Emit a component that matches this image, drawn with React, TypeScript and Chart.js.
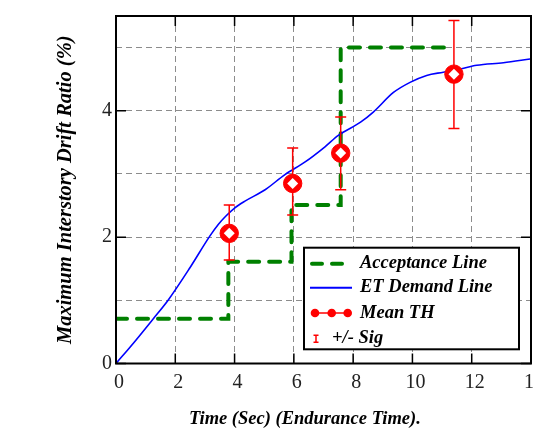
import { useEffect, useRef } from "react";
import { Chart, registerables } from "chart.js";

Chart.register(...registerables);

// ET demand line (time in sec, drift %)
const demandX = [0, 0.6, 1.26, 1.77, 2.5, 3.17, 3.45, 3.7, 4.0, 4.35, 5.03, 5.7, 6.38, 7.05, 7.5, 8.25, 8.68, 9.36, 9.92, 10.48, 11.04, 11.6, 12.17, 13.07, 13.97];
const demandY = [0, 0.33, 0.71, 1.01, 1.52, 2.02, 2.2, 2.33, 2.46, 2.57, 2.75, 2.99, 3.19, 3.43, 3.61, 3.82, 3.98, 4.29, 4.45, 4.56, 4.61, 4.66, 4.72, 4.76, 4.82];

// Acceptance line (step, horizontal first)
const acceptX = [0, 3.79, 5.92, 7.58, 11.35];
const acceptY = [0.71, 1.61, 2.51, 5.0, 5.0];

// Mean TH with +/- sigma
const meanX = [3.82, 5.96, 7.58, 11.4];
const meanY = [2.06, 2.85, 3.33, 4.58];
const sigLow = [1.64, 2.35, 2.75, 3.72];
const sigHigh = [2.51, 3.41, 3.9, 5.43];

const xTickValues = [0, 2, 4, 6, 8, 10, 12, 14];
const yLabelValues = [0, 2, 4];

const legendLabels = ["Acceptance Line", "ET Demand Line", "Mean TH", "+/- Sig"];
const xTitle = "Time (Sec) (Endurance Time).";
const yTitle = "Maximum Interstory Drift Ratio (%)";

const SERIF = "'Liberation Serif', 'Times New Roman', serif";
const GREEN = "#008000";
const BLUE = "#0000ff";
const RED = "#ff0000";

const decor = {
  id: "decor",
  afterDatasetDraw(chart: any, args: any) {
    if (args.index !== 2) return;
    const { ctx, scales } = chart;
    const xs = scales.x;
    const ys = scales.y;
    ctx.save();
    ctx.strokeStyle = RED;
    ctx.lineWidth = 1.5;
    for (let i = 0; i < meanX.length; i++) {
      const px = xs.getPixelForValue(meanX[i]);
      const pTop = ys.getPixelForValue(sigHigh[i]);
      const pBot = ys.getPixelForValue(sigLow[i]);
      ctx.beginPath();
      ctx.moveTo(px, pTop);
      ctx.lineTo(px, pBot);
      ctx.moveTo(px - 5.5, pTop);
      ctx.lineTo(px + 5.5, pTop);
      ctx.moveTo(px - 5.5, pBot);
      ctx.lineTo(px + 5.5, pBot);
      ctx.stroke();
    }
    ctx.restore();
  },
  afterDraw(chart: any) {
    const { ctx, chartArea: ca, scales } = chart;
    const xs = scales.x;
    const ys = scales.y;
    ctx.save();
    // inward tick marks
    ctx.strokeStyle = "#000";
    ctx.lineWidth = 1.5;
    ctx.beginPath();
    for (const v of xTickValues) {
      const px = xs.getPixelForValue(v);
      ctx.moveTo(px, ca.bottom);
      ctx.lineTo(px, ca.bottom - 10);
      ctx.moveTo(px, ca.top);
      ctx.lineTo(px, ca.top + 10);
    }
    for (const v of yLabelValues) {
      const py = ys.getPixelForValue(v);
      ctx.moveTo(ca.left, py);
      ctx.lineTo(ca.left + 10, py);
      ctx.moveTo(ca.right, py);
      ctx.lineTo(ca.right - 10, py);
    }
    ctx.stroke();
    // frame
    ctx.lineWidth = 2;
    ctx.strokeRect(ca.left, ca.top, ca.right - ca.left, ca.bottom - ca.top);

    // legend
    const bx = ca.left + 188;
    const by = ca.top + 231.7;
    const bw = 215;
    const bh = 101.6;
    ctx.fillStyle = "#fff";
    ctx.fillRect(bx, by, bw, bh);
    ctx.strokeStyle = "#000";
    ctx.lineWidth = 2;
    ctx.strokeRect(bx, by, bw, bh);
    const rows = [16, 40, 65.3, 91];
    const s0 = bx + 6;
    const s1 = bx + 48;
    // acceptance sample
    ctx.strokeStyle = GREEN;
    ctx.lineWidth = 4;
    ctx.lineCap = "round";
    ctx.setLineDash([10, 10]);
    ctx.beginPath();
    ctx.moveTo(s0 + 2, by + rows[0]);
    ctx.lineTo(s1 - 2, by + rows[0]);
    ctx.stroke();
    ctx.setLineDash([]);
    ctx.lineCap = "butt";
    // demand sample
    ctx.strokeStyle = BLUE;
    ctx.lineWidth = 2;
    ctx.beginPath();
    ctx.moveTo(s0, by + rows[1]);
    ctx.lineTo(s1, by + rows[1]);
    ctx.stroke();
    // mean sample
    ctx.strokeStyle = RED;
    ctx.lineWidth = 1.5;
    ctx.beginPath();
    ctx.moveTo(s0 + 5, by + rows[2]);
    ctx.lineTo(s1 - 4, by + rows[2]);
    ctx.stroke();
    ctx.fillStyle = RED;
    for (const off of [11, 27.7, 43.7]) {
      ctx.beginPath();
      ctx.arc(bx + off, by + rows[2], 4.3, 0, Math.PI * 2);
      ctx.fill();
    }
    // sig sample
    ctx.lineWidth = 1.5;
    const sx = bx + 12;
    const sy = by + rows[3];
    ctx.beginPath();
    ctx.moveTo(sx, sy - 3.5);
    ctx.lineTo(sx, sy + 3.5);
    ctx.moveTo(sx - 2.5, sy - 3.5);
    ctx.lineTo(sx + 2.5, sy - 3.5);
    ctx.moveTo(sx - 2.5, sy + 3.5);
    ctx.lineTo(sx + 2.5, sy + 3.5);
    ctx.stroke();
    // legend text
    ctx.fillStyle = "#000";
    ctx.font = `bold italic 18.5px ${SERIF}`;
    ctx.textBaseline = "middle";
    ctx.textAlign = "left";
    ctx.fillText(legendLabels[0], bx + 56, by + rows[0]);
    ctx.fillText(legendLabels[1], bx + 56, by + rows[1]);
    ctx.fillText(legendLabels[2], bx + 56, by + rows[2]);
    ctx.fillText(legendLabels[3], bx + 28, by + rows[3]);

    // axis titles
    ctx.textAlign = "center";
    ctx.fillText(xTitle, ca.left + 0.455 * (ca.right - ca.left), ca.bottom + 55.5);
    ctx.font = `bold italic 20.5px ${SERIF}`;
    ctx.translate(ca.left - 50, (ca.top + ca.bottom) / 2);
    ctx.rotate(-Math.PI / 2);
    ctx.fillText(yTitle, 0, 0);
    ctx.restore();
  },
};

export default function App() {
  const ref = useRef<HTMLCanvasElement | null>(null);
  useEffect(() => {
    if (!ref.current) return;
    const pts = (xs: number[], ys: number[]) => xs.map((x, i) => ({ x, y: ys[i] }));
    const chart = new Chart(ref.current, {
      type: "line",
      data: {
        datasets: [
          {
            label: "Mean TH inner",
            data: pts(meanX, meanY),
            showLine: false,
            pointStyle: "rectRot",
            pointRadius: 5.5,
            pointBackgroundColor: "#fff",
            pointBorderColor: "#fff",
            pointBorderWidth: 0,
          },
          {
            label: legendLabels[2],
            data: pts(meanX, meanY),
            showLine: false,
            pointStyle: "circle",
            pointRadius: 9.2,
            pointBackgroundColor: RED,
            pointBorderColor: RED,
            pointBorderWidth: 1,
          },
          {
            label: legendLabels[1],
            data: pts(demandX, demandY),
            borderColor: BLUE,
            borderWidth: 1.6,
            pointRadius: 0,
            cubicInterpolationMode: "monotone",
            fill: false,
          },
          {
            label: legendLabels[0],
            data: pts(acceptX, acceptY),
            borderColor: GREEN,
            borderWidth: 4,
            borderDash: [11, 10],
            borderCapStyle: "round",
            stepped: "before",
            pointRadius: 0,
            fill: false,
          },
        ],
      },
      options: {
        animation: false,
        responsive: false,
        devicePixelRatio: 1,
        layout: { padding: { left: 0, right: 39, top: 14, bottom: 0 } },
        plugins: { legend: { display: false }, tooltip: { enabled: false } },
        scales: {
          x: {
            type: "linear",
            min: 0,
            max: 14,
            afterFit: (s: any) => {
              s.height = 77.5;
            },
            ticks: {
              stepSize: 2,
              autoSkip: false,
              maxRotation: 0,
              padding: 7,
              labelOffset: 3,
              color: "#222",
              font: { family: SERIF, size: 20 },
              callback: (v: any) => String(v),
            },
            grid: { color: "#8c8c8c", lineWidth: 1, drawTicks: false },
            border: { display: false, dash: [6, 4] },
          },
          y: {
            type: "linear",
            min: 0,
            max: 5.5,
            afterFit: (s: any) => {
              s.width = 116;
            },
            ticks: {
              stepSize: 1,
              includeBounds: false,
              autoSkip: false,
              padding: 4,
              color: "#222",
              font: { family: SERIF, size: 20 },
              callback: (v: any) => (yLabelValues.includes(Number(v)) ? String(v) : ""),
            },
            grid: { color: "#8c8c8c", lineWidth: 1, drawTicks: false },
            border: { display: false, dash: [6, 4] },
          },
        },
      },
      plugins: [decor],
    } as any);
    return () => chart.destroy();
  }, []);
  return (
    <div
      style={{
        position: "fixed",
        left: 0,
        top: 0,
        width: 534,
        height: 441,
        overflow: "hidden",
        background: "#fff",
      }}
    >
      <canvas ref={ref} width={570} height={441} style={{ display: "block" }} />
    </div>
  );
}
